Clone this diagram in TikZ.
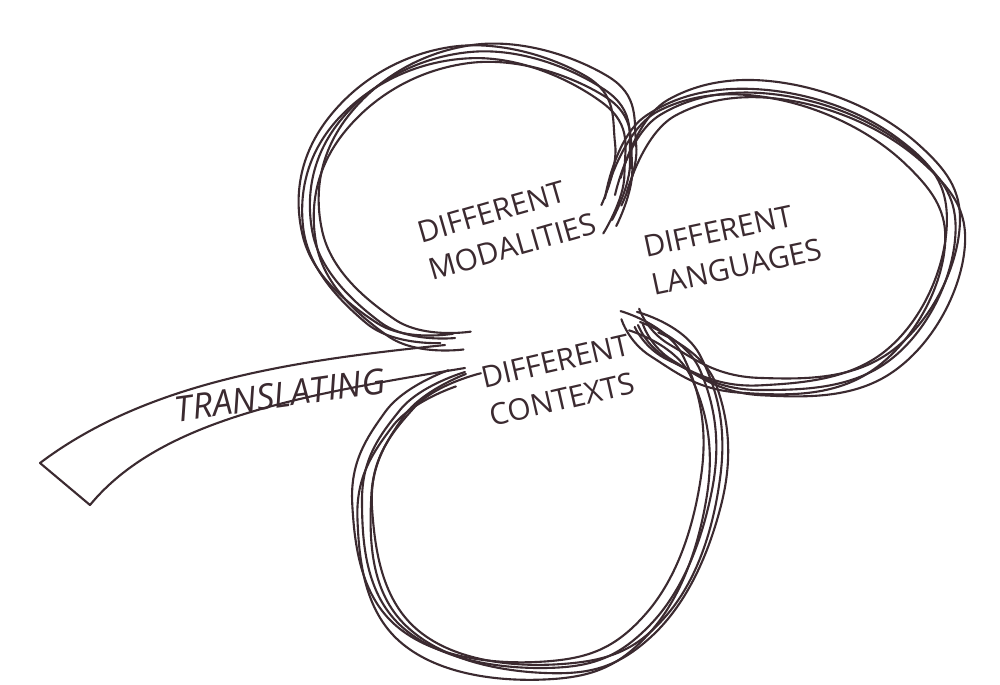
\documentclass[tikz,border=0pt]{standalone}
\usepackage{fontspec}
\setmainfont{Open Sans}
\definecolor{ink}{HTML}{3B2A30}
\tikzset{
  pen/.style={draw=ink, line width=0.6pt, line cap=round, line join=round},
  label/.style={text=ink, align=left, font=\fontsize{8.5}{11}\selectfont, inner sep=1pt}
}
\begin{document}
\begin{tikzpicture}[x=0.01cm,y=-0.01cm]
\useasboundingbox (0,0) rectangle (1000,684);
% leaves, each drawn with a few loose strokes
\foreach \dx/\dy/\r in {0/0/0, 9/-7/3, -8/6/-3, 4/11/2, -11/-5/4} {
  \begin{scope}[shift={(\dx,\dy)}, rotate around={\r:(470,210)}]
  \draw[pen] plot[smooth, tension=0.7] coordinates {(612,220) (630,160) (605,90) (470,52) (345,115) (312,230) (380,322) (455,338)};
  \end{scope}
  \begin{scope}[shift={(\dx,-\dy)}, rotate around={-\r:(790,240)}]
  \draw[pen] plot[smooth, tension=0.7] coordinates {(615,195) (660,115) (780,95) (910,150) (955,240) (890,360) (760,390) (670,360) (638,325)};
  \end{scope}
  \begin{scope}[shift={(-\dx,\dy)}, rotate around={\r:(560,520)}]
  \draw[pen] plot[smooth, tension=0.7] coordinates {(640,322) (700,370) (712,490) (650,625) (540,668) (400,625) (362,500) (400,410) (465,372)};
  \end{scope}
}
% stem
\coordinate (su) at (445,345);
\coordinate (sl) at (465,368);
\coordinate (tu) at (40,463);
\coordinate (tl) at (90,505);
\draw[pen] (su) .. controls (300,360) and (150,380) .. (tu);
\draw[pen] (sl) .. controls (300,395) and (160,420) .. (tl);
\draw[pen] (tu) -- (tl);
\node[label, rotate=8] (trans) at (280,395) {\fontsize{10}{12}\selectfont\itshape TRANSLATING};
% labels
\node[label, rotate=16] (mod) at (507,228) {DIFFERENT\\ MODALITIES};
\node[label, rotate=12] (lang) at (733,248) {DIFFERENT\\ LANGUAGES};
\node[label, rotate=13] (ctx) at (560,380) {DIFFERENT\\ CONTEXTS};
\end{tikzpicture}
\end{document}
